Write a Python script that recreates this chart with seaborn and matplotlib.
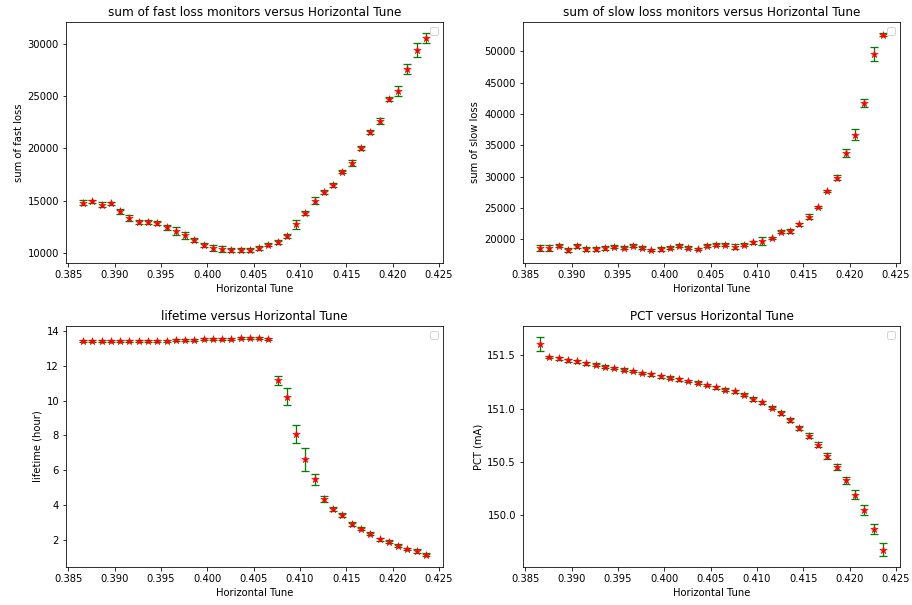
import matplotlib
matplotlib.use("Agg")
import matplotlib.pyplot as plt
import seaborn as sns
import pandas as pd

# Horizontal tune scan points
tune = [0.3866, 0.3876, 0.3886, 0.3896, 0.3906, 0.3916, 0.3926, 0.3936, 0.3946, 0.3956,
        0.3966, 0.3976, 0.3986, 0.3996, 0.4006, 0.4016, 0.4026, 0.4036, 0.4046, 0.4056,
        0.4066, 0.4076, 0.4086, 0.4096, 0.4106, 0.4116, 0.4126, 0.4136, 0.4146, 0.4156,
        0.4166, 0.4176, 0.4186, 0.4196, 0.4206, 0.4216, 0.4226, 0.4236]

fast_loss = [14808, 14936, 14615, 14743, 13974, 13333, 12949, 12949, 12852, 12436,
             12083, 11667, 11186, 10769, 10449, 10353, 10256, 10256, 10256, 10449,
             10769, 10994, 11603, 12724, 13782, 15000, 15833, 16474, 17756, 18590,
             20032, 21570, 22628, 24711, 25448, 27595, 29455, 30577]
fast_err = [250, 130, 250, 130, 250, 290, 160, 160, 160, 250,
            380, 320, 190, 190, 250, 290, 190, 190, 160, 160,
            160, 190, 190, 420, 190, 320, 160, 190, 130, 290,
            190, 190, 250, 190, 480, 480, 670, 480]

slow_loss = [18613, 18613, 18986, 18292, 18986, 18453, 18453, 18613, 18826, 18666,
             18986, 18666, 18292, 18453, 18666, 18986, 18666, 18453, 18986, 19146,
             19146, 18826, 19146, 19520, 19733, 20213, 21227, 21387, 22401, 23629,
             25176, 27684, 29818, 33767, 36702, 41771, 49508, 52656]
slow_err = [480, 530, 210, 320, 320, 270, 270, 270, 270, 270,
            210, 210, 210, 270, 270, 210, 210, 210, 270, 210,
            270, 370, 210, 210, 640, 210, 210, 320, 210, 370,
            210, 210, 430, 690, 900, 640, 1120, 270]

lifetime = [13.41, 13.41, 13.41, 13.41, 13.41, 13.41, 13.41, 13.41, 13.41, 13.41,
            13.47, 13.47, 13.47, 13.53, 13.53, 13.53, 13.53, 13.60, 13.60, 13.60,
            13.53, 11.16, 10.23, 8.06, 6.64, 5.48, 4.33, 3.78, 3.42, 2.93,
            2.63, 2.36, 2.04, 1.89, 1.66, 1.47, 1.36, 1.15]
lifetime_err = [0.05, 0.05, 0.05, 0.05, 0.05, 0.05, 0.05, 0.05, 0.05, 0.05,
                0.05, 0.05, 0.05, 0.05, 0.05, 0.05, 0.05, 0.05, 0.05, 0.05,
                0.05, 0.27, 0.48, 0.51, 0.66, 0.32, 0.17, 0.11, 0.13, 0.11,
                0.08, 0.09, 0.08, 0.09, 0.08, 0.08, 0.09, 0.08]

pct = [151.606, 151.484, 151.472, 151.453, 151.444, 151.425, 151.413, 151.394, 151.381, 151.366,
       151.353, 151.334, 151.322, 151.303, 151.291, 151.275, 151.259, 151.244, 151.222, 151.200,
       151.178, 151.163, 151.131, 151.091, 151.059, 151.009, 150.956, 150.894, 150.819, 150.747,
       150.663, 150.556, 150.453, 150.328, 150.194, 150.047, 149.872, 149.678]
pct_err = [0.066, 0.0125, 0.0125, 0.0125, 0.0125, 0.0125, 0.0125, 0.0125, 0.0125, 0.0125,
           0.0125, 0.0125, 0.0125, 0.0125, 0.0125, 0.0125, 0.0125, 0.0125, 0.0125, 0.0125,
           0.0125, 0.0125, 0.016, 0.016, 0.016, 0.016, 0.019, 0.019, 0.019, 0.025,
           0.022, 0.025, 0.028, 0.031, 0.041, 0.047, 0.050, 0.059]

panels = [
    ("sum of fast loss monitors versus Horizontal Tune", "sum of fast loss", fast_loss, fast_err),
    ("sum of slow loss monitors versus Horizontal Tune", "sum of slow loss", slow_loss, slow_err),
    ("lifetime versus Horizontal Tune", "lifetime (hour)", lifetime, lifetime_err),
    ("PCT versus Horizontal Tune", "PCT (mA)", pct, pct_err),
]

W, H = 912, 605
fig = plt.figure(figsize=(W / 72, H / 72), dpi=72)

# axes boxes in pixels: left, top, right, bottom
boxes = [(66, 22, 443, 263), (523, 22, 900, 263),
         (66, 326, 443, 567), (523, 326, 900, 567)]

for (title, ylabel, vals, errs), (l, t, r, b) in zip(panels, boxes):
    ax = fig.add_axes([l / W, 1 - b / H, (r - l) / W, (b - t) / H])
    df = pd.DataFrame({"tune": tune, "value": vals, "err": errs})
    ax.errorbar(df["tune"], df["value"], yerr=df["err"], fmt="none",
                ecolor="green", elinewidth=1.3, capsize=4, capthick=1.3, zorder=2)
    sns.scatterplot(data=df, x="tune", y="value", ax=ax, marker="*", s=62,
                    color="red", edgecolor="red", linewidth=0.5, zorder=3)
    ax.set_title(title, fontsize=12)
    ax.set_xlabel("Horizontal Tune", fontsize=10)
    ax.set_ylabel(ylabel, fontsize=10)
    ax.legend(handles=[], loc="upper right")

fig.savefig("out.png", dpi=72)
